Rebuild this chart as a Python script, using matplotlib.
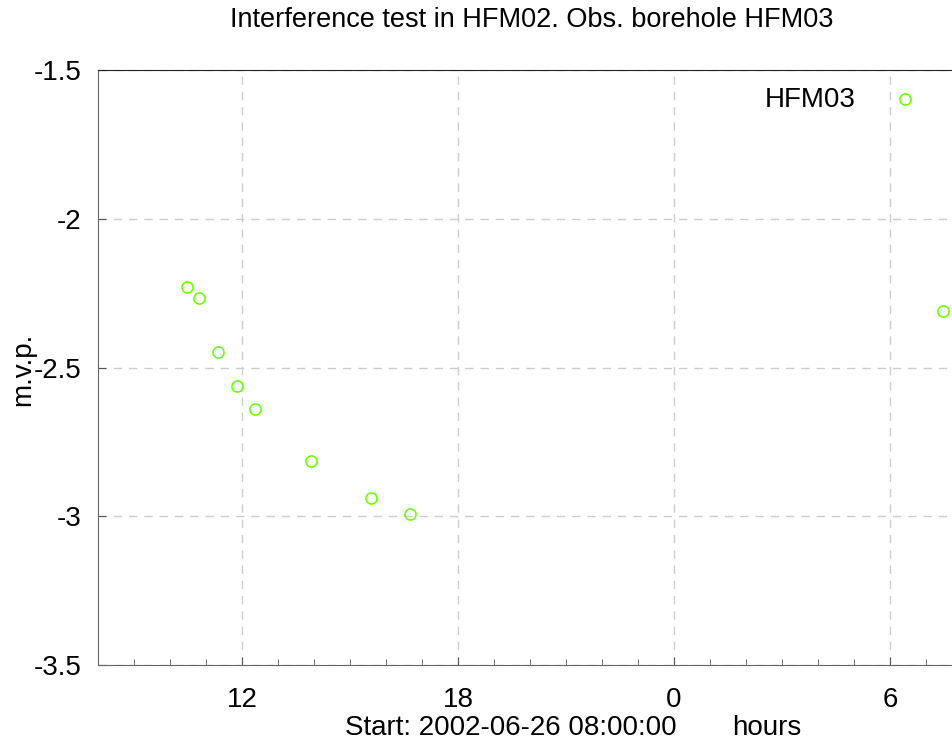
import numpy as np
import matplotlib
matplotlib.use("Agg")
import matplotlib.pyplot as plt
from matplotlib.ticker import MultipleLocator, FixedLocator

# hours since 2002-06-26 00:00
hours = [10.47, 10.81, 11.33, 11.86, 12.36, 13.92, 15.58, 16.67, 31.47]
level = [-2.231, -2.268, -2.449, -2.561, -2.641, -2.813, -2.938, -2.992, -2.311]

major_ticks = [12, 18, 24, 30]
major_labels = ['12', '18', '0', '6']
y_ticks = [-1.5, -2, -2.5, -3, -3.5]
y_labels = ['-1.5', '-2', '-2.5', '-3', '-3.5']

plt.rcParams['font.family'] = ['Liberation Sans', 'DejaVu Sans']

W, H = 952, 744
fig = plt.figure(figsize=(W / 100, H / 100), dpi=100)
# axes runs from x=98 to x=962 px (right edge is cropped off the picture)
ax = fig.add_axes([98 / W, 1 - 665 / H, (962 - 98) / W, (665 - 70) / H])

green = '#66ff00'
ax.plot(hours, level, linestyle='none', marker='o', markersize=8,
        markerfacecolor='none', markeredgecolor=green, markeredgewidth=1.1,
        clip_on=False)

ax.set_xlim(8, 32)
ax.set_ylim(-3.5, -1.5)
ax.xaxis.set_major_locator(FixedLocator(major_ticks))
ax.set_xticklabels(major_labels)
ax.xaxis.set_minor_locator(MultipleLocator(1))
ax.set_yticks(y_ticks)
ax.set_yticklabels(y_labels)

ax.grid(True, which='major', color='#cccccc', linestyle=(0, (6, 5)), linewidth=1)
ax.tick_params(axis='both', which='major', direction='in', length=6,
               color='#555555', labelsize=20)
ax.tick_params(axis='y', which='major', pad=12)
ax.tick_params(axis='x', which='major', pad=16)
ax.tick_params(axis='x', which='minor', direction='in', length=4, color='#555555')
ax.tick_params(axis='y', which='minor', left=False)

for side in ['left', 'bottom']:
    ax.spines[side].set_color('#666666')
ax.spines['top'].set_color('#222222')
ax.spines['right'].set_visible(False)

fig.text(23 / W, 1 - 369 / H, 'm.v.p.', rotation=90, ha='center', va='center',
         fontsize=20)

fig.text(532 / W, 1 - 27 / H, 'Interference test in HFM02. Obs. borehole HFM03',
         ha='center', va='baseline', fontsize=19.5)
fig.text(511 / W, 1 - 735 / H, 'Start: 2002-06-26 08:00:00',
         ha='center', va='baseline', fontsize=20)
fig.text(767 / W, 1 - 735 / H, 'hours', ha='center', va='baseline', fontsize=20)

# legend: label then marker
fig.text(856 / W, 1 - 100 / H, 'HFM03', ha='right', va='center', fontsize=20)
ax.plot([30.42], [-1.598], linestyle='none', marker='o', markersize=8,
        markerfacecolor='none', markeredgecolor=green, markeredgewidth=1.1)

fig.savefig('out.png', dpi=100)
